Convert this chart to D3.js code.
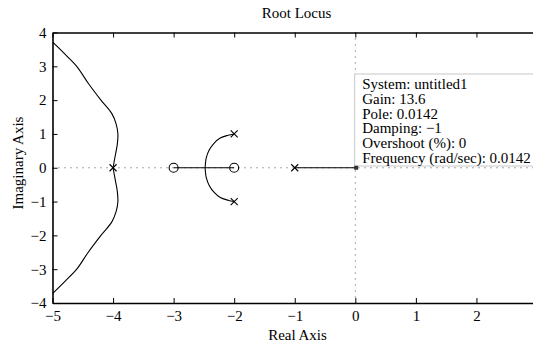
<!DOCTYPE html>
<html lang="en">
<head>
    <meta charset="UTF-8">
    <title>Root Locus</title>
    <style>
        body { margin: 0; background: #fff; }
        text { font-family: "Liberation Serif", "Times New Roman", serif; fill: #000; }
    </style>
</head>
<body></body>
<script src="https://cdn.jsdelivr.net/npm/d3@7"></script>
<script>
    // data
    const xTicks = [-5, -4, -3, -2, -1, 0, 1, 2];
    const yTicks = [-4, -3, -2, -1, 0, 1, 2, 3, 4];
    const poles = [[-4, 0], [-2, 1], [-2, -1], [-1, 0]];
    const zeros = [[-3, 0], [-2, 0]];

    const farBranch = [[-4, 0], [-3.97, 0.3], [-3.93, 0.7], [-3.92, 1.0], [-3.95, 1.3],
        [-4.02, 1.6], [-4.2, 2.0], [-4.41, 2.5], [-4.6, 3.0], [-4.79, 3.35], [-5, 3.72]];
    const nearBranch = [[-2, 1], [-2.1, 0.96], [-2.23, 0.88], [-2.33, 0.73], [-2.41, 0.53],
        [-2.46, 0.3], [-2.48, 0]];
    const realSegments = [[[-3, 0], [-2, 0]], [[-1, 0], [0.0142, 0]]];

    const tipPoint = [0.0142, 0];
    const tipLines = ["System: untitled1", "Gain: 13.6", "Pole: 0.0142", "Damping: \u22121",
        "Overshoot (%): 0", "Frequency (rad/sec): 0.0142"];

    let width = 533;
    let height = 346;

    let svg = d3.select("body").append("svg")
        .attr("width", width)
        .attr("height", height);

    let x = d3.scaleLinear().domain([-5, 3]).range([52.5, 537]);
    let y = d3.scaleLinear().domain([-4, 4]).range([303, 32.5]);

    const fmt = d => d < 0 ? "\u2212" + Math.abs(d) : String(d);

    // dotted axis lines through the origin
    svg.append("line")
        .attr("x1", x(-5)).attr("x2", x(3))
        .attr("y1", y(0)).attr("y2", y(0))
        .style("stroke", "#555").style("stroke-width", 1)
        .style("stroke-dasharray", "1,5");
    svg.append("line")
        .attr("x1", x(0)).attr("x2", x(0))
        .attr("y1", y(4)).attr("y2", y(-4))
        .style("stroke", "#555").style("stroke-width", 1)
        .style("stroke-dasharray", "1,5");

    svg.append("clipPath").attr("id", "plot")
        .append("rect")
        .attr("x", x(-5)).attr("y", y(4))
        .attr("width", x(3) - x(-5)).attr("height", y(-4) - y(4));

    let line = d3.line()
        .x(d => x(d[0]))
        .y(d => y(d[1]))
        .curve(d3.curveCatmullRom);

    let mirror = pts => pts.map(p => [p[0], -p[1]]);
    let branches = [farBranch, mirror(farBranch), nearBranch, mirror(nearBranch)].concat(realSegments);

    svg.append("g").attr("clip-path", "url(#plot)")
        .selectAll("path")
        .data(branches)
        .enter()
        .append("path")
        .attr("d", line)
        .style("fill", "none")
        .style("stroke", "#000")
        .style("stroke-width", 1.1);

    // poles
    svg.selectAll(".pole")
        .data(poles)
        .enter()
        .append("path")
        .attr("class", "pole")
        .attr("d", p => {
            let cx = x(p[0]), cy = y(p[1]), s = 3.5;
            return `M${cx - s},${cy - s}L${cx + s},${cy + s}M${cx - s},${cy + s}L${cx + s},${cy - s}`;
        })
        .style("stroke", "#000")
        .style("stroke-width", 1.1);

    // zeros
    svg.selectAll(".zero")
        .data(zeros)
        .enter()
        .append("circle")
        .attr("class", "zero")
        .attr("cx", p => x(p[0]))
        .attr("cy", p => y(p[1]))
        .attr("r", 4.5)
        .style("fill", "none")
        .style("stroke", "#000")
        .style("stroke-width", 1.1);

    // axes box
    svg.append("g")
        .attr("transform", `translate(0,${y(-4)})`)
        .call(d3.axisBottom(x).tickValues(xTicks).tickSizeInner(-5).tickSizeOuter(0).tickPadding(7).tickFormat(fmt));
    svg.append("g")
        .attr("transform", `translate(0,${y(4)})`)
        .call(d3.axisTop(x).tickValues(xTicks).tickSizeInner(-5).tickSizeOuter(0).tickFormat(""));
    svg.append("g")
        .attr("transform", `translate(${x(-5)},0)`)
        .call(d3.axisLeft(y).tickValues(yTicks).tickSizeInner(-5).tickSizeOuter(0).tickPadding(6).tickFormat(fmt));

    svg.selectAll(".domain").style("stroke", "#000").style("stroke-width", 1.6);
    svg.selectAll(".tick line").style("stroke", "#000");
    svg.selectAll(".tick text").style("font-size", "15px")
        .style("font-family", "Liberation Serif, serif");

    // data tip
    let tip = svg.append("g");
    tip.append("rect")
        .attr("x", x(tipPoint[0]) - 1.5).attr("y", 74)
        .attr("width", 179).attr("height", 92)
        .style("fill", "#fff")
        .style("stroke", "#c8c8c8")
        .style("stroke-width", 1);
    tip.selectAll("text")
        .data(tipLines)
        .enter()
        .append("text")
        .attr("x", x(tipPoint[0]) + 6)
        .attr("y", (d, i) => 89 + i * 14.8)
        .style("font-size", "15px")
        .text(d => d);
    tip.append("rect")
        .attr("x", x(tipPoint[0]) - 2).attr("y", y(tipPoint[1]) - 2)
        .attr("width", 4).attr("height", 4)
        .style("fill", "#333");

    // labels
    svg.append("text")
        .attr("x", 296.5).attr("y", 18)
        .attr("text-anchor", "middle")
        .style("font-size", "15px")
        .text("Root Locus");
    svg.append("text")
        .attr("x", 297.5).attr("y", 340)
        .attr("text-anchor", "middle")
        .style("font-size", "15px")
        .text("Real Axis");
    svg.append("text")
        .attr("transform", `translate(23,163) rotate(-90)`)
        .attr("text-anchor", "middle")
        .style("font-size", "15px")
        .text("Imaginary Axis");
</script>
</html>
